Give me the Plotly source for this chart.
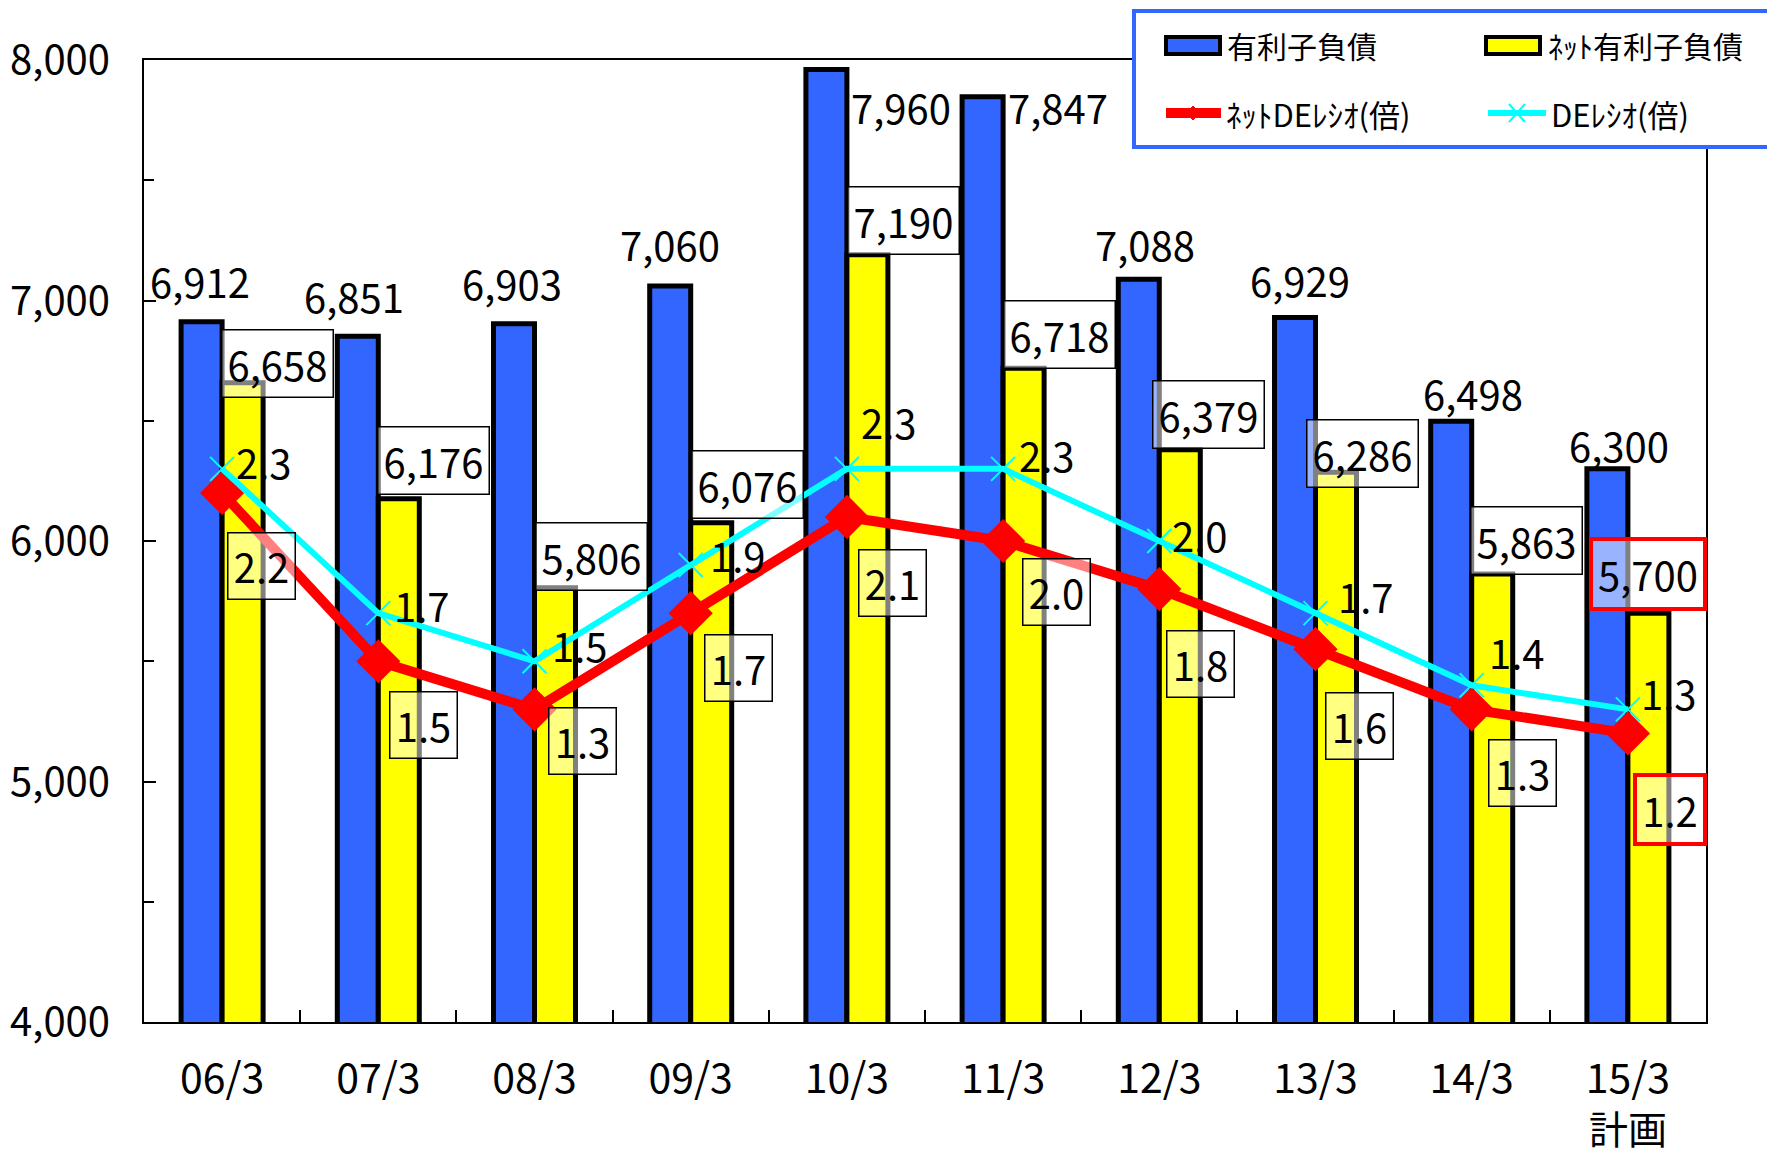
import plotly.graph_objects as go

# ---------------- data ----------------
categories = ["06/3", "07/3", "08/3", "09/3", "10/3", "11/3", "12/3", "13/3", "14/3", "15/3"]
plan_note = "計画"   # second line under the last category (plan year)
debt = [6912, 6851, 6903, 7060, 7960, 7847, 7088, 6929, 6498, 6300]          # 有利子負債
net_debt = [6658, 6176, 5806, 6076, 7190, 6718, 6379, 6286, 5863, 5700]      # ﾈｯﾄ有利子負債
net_de_ratio = [2.2, 1.5, 1.3, 1.7, 2.1, 2.0, 1.8, 1.55, 1.3, 1.2]           # ﾈｯﾄDEﾚｼｵ(倍)
de_ratio = [2.3, 1.7, 1.5, 1.9, 2.3, 2.3, 2.0, 1.7, 1.4, 1.3]                # DEﾚｼｵ(倍)
y_tick_values = [4000, 5000, 6000, 7000, 8000]

series_names = ["有利子負債", "ﾈｯﾄ有利子負債", "ﾈｯﾄDEﾚｼｵ(倍)", "DEﾚｼｵ(倍)"]

# ---------------- label placement (pixel offsets from the anchor point) ----------------
debt_lbl_dx = [-22, -24, -23, -21, 54, 55, -14, -16, 1, -9]      # from category centre
debt_lbl_dy = [41, 40, 41, 42, -37, -10, 35, 38, 28, 24]
net_lbl_dx = [35, 35, 36, 36, 36, 36, 29, 26, 34, 0]             # from yellow bar centre
net_lbl_dy = [19, 38, 31, 38, 34, 34, 35, 19, 33, 39]
nde_lbl_dx = [39, 45, 48, 48, 46, 53, 41, 44, 51, 42]
nde_lbl_dy = [-73, -64, -32, -55, -66, -51, -75, -77, -64, -76]
de_lbl_dx = [42, 44, 45, 47, 42, 44, 41, 50, 45, 41]
de_lbl_dy = [7, 8, 16, 10, 47, 14, 6, 17, 33, 16]
highlight = [False] * 9 + [True]

FONT = "Noto Sans CJK JP"
BLUE = "#3366FF"
YELLOW = "#FFFF00"
RED = "#FF0000"
CYAN = "#00FFFF"

# the page body has an 8px margin, so the figure is sized/offset to compensate
OFF = 8
W, H = 1767, 1150
ML, MR, MT, MB = 136, 69, 52, 136
PW, PH = W - ML - MR, H - MT - MB


def px(x):
    return (x - OFF - ML) / PW


def py(y):
    return (H - MB - (y - OFF)) / PH


fig = go.Figure()
fig.add_trace(go.Bar(x=categories, y=debt, name=series_names[0], showlegend=False,
                     marker=dict(color=BLUE, line=dict(color="black", width=5))))
fig.add_trace(go.Bar(x=categories, y=net_debt, name=series_names[1], showlegend=False,
                     marker=dict(color=YELLOW, line=dict(color="black", width=5))))
fig.add_trace(go.Scatter(x=categories, y=net_de_ratio, name=series_names[2], yaxis="y2",
                         mode="lines+markers", showlegend=False,
                         line=dict(color=RED, width=10),
                         marker=dict(symbol="diamond", size=34, color=RED)))
fig.add_trace(go.Scatter(x=categories, y=de_ratio, name=series_names[3], yaxis="y2",
                         mode="lines+markers", showlegend=False,
                         line=dict(color=CYAN, width=6),
                         marker=dict(symbol="x-thin", size=24, color=CYAN,
                                     line=dict(color=CYAN, width=2))))

annotations = []
lbl_font = dict(family=FONT, size=40, color="black")
for i, c in enumerate(categories):
    annotations.append(dict(x=c, y=debt[i], xref="x", yref="y", text=f"{debt[i]:,}",
                            showarrow=False, font=lbl_font,
                            xshift=debt_lbl_dx[i], yshift=debt_lbl_dy[i]))
    annotations.append(dict(x=c, y=net_debt[i], xref="x", yref="y", text=f"{net_debt[i]:,}",
                            showarrow=False, font=lbl_font,
                            xshift=20.5 + net_lbl_dx[i], yshift=net_lbl_dy[i],
                            bgcolor="rgba(255,255,255,0.5)",
                            bordercolor=RED if highlight[i] else "black",
                            borderwidth=4 if highlight[i] else 1.5,
                            width=110, height=66, borderpad=0))
    annotations.append(dict(x=c, y=net_de_ratio[i], xref="x", yref="y2",
                            text=f"{net_de_ratio[i]:.1f}",
                            showarrow=False, font=lbl_font,
                            xshift=nde_lbl_dx[i], yshift=nde_lbl_dy[i],
                            bgcolor="rgba(255,255,255,0.5)",
                            bordercolor=RED if highlight[i] else "black",
                            borderwidth=4 if highlight[i] else 1.5,
                            width=66, height=65, borderpad=0))
    annotations.append(dict(x=c, y=de_ratio[i], xref="x", yref="y2",
                            text=f"{de_ratio[i]:.1f}",
                            showarrow=False, font=lbl_font,
                            xshift=de_lbl_dx[i], yshift=de_lbl_dy[i]))

# second line of the last category label
annotations.append(dict(x=categories[-1], xref="x", yref="paper", y=py(1127),
                        yanchor="middle", text=plan_note, showarrow=False,
                        font=dict(family=FONT, size=39, color="black")))

# ---------------- legend (drawn by hand, in paper coordinates) ----------------
shapes = [dict(type="rect", xref="paper", yref="paper", x0=px(1134), x1=px(1800),
               y0=py(147), y1=py(11), line=dict(color=BLUE, width=4),
               fillcolor="white", layer="above")]
shapes.append(dict(type="rect", xref="paper", yref="paper", x0=px(1166), x1=px(1220),
                   y0=py(54), y1=py(37), line=dict(color="black", width=4),
                   fillcolor=BLUE, layer="above"))
shapes.append(dict(type="rect", xref="paper", yref="paper", x0=px(1486), x1=px(1540),
                   y0=py(54), y1=py(37), line=dict(color="black", width=4),
                   fillcolor=YELLOW, layer="above"))
shapes.append(dict(type="line", xref="paper", yref="paper", x0=px(1166), x1=px(1221),
                   y0=py(113), y1=py(113), line=dict(color=RED, width=10), layer="above"))
shapes.append(dict(type="path", xref="paper", yref="paper",
                   path=f"M {px(1186)},{py(113)} L {px(1193)},{py(106)} L {px(1200)},{py(113)} "
                        f"L {px(1193)},{py(120)} Z",
                   line=dict(color=RED, width=1), fillcolor=RED, layer="above"))
shapes.append(dict(type="line", xref="paper", yref="paper", x0=px(1488), x1=px(1546),
                   y0=py(113), y1=py(113), line=dict(color=CYAN, width=6), layer="above"))
shapes.append(dict(type="line", xref="paper", yref="paper", x0=px(1509), x1=px(1525),
                   y0=py(104), y1=py(122), line=dict(color=CYAN, width=2), layer="above"))
shapes.append(dict(type="line", xref="paper", yref="paper", x0=px(1509), x1=px(1525),
                   y0=py(122), y1=py(104), line=dict(color=CYAN, width=2), layer="above"))

legend_text_pos = [(1225, 45, 30), (1546, 45, 30), (1224, 114, 31), (1549, 114, 31)]
for name, (lx, ly, fs) in zip(series_names, legend_text_pos):
    annotations.append(dict(xref="paper", yref="paper", x=px(lx), y=py(ly), text=name,
                            xanchor="left", yanchor="middle", showarrow=False,
                            font=dict(family=FONT, size=fs, color="black")))

fig.update_layout(
    width=W, height=H,
    margin=dict(l=ML, r=MR, t=MT, b=MB, autoexpand=False),
    paper_bgcolor="white", plot_bgcolor="white",
    font=dict(family=FONT, size=40, color="black"),
    barmode="group", bargap=0.475, bargroupgap=0,
    xaxis=dict(type="category", range=[-0.5, len(categories) - 0.5],
               showline=True, linecolor="black", linewidth=2, mirror=True,
               ticks="inside", tickson="boundaries", ticklen=12, tickwidth=2, tickcolor="black",
               showgrid=False, tickfont=dict(family=FONT, size=41), ticklabelstandoff=20),
    yaxis=dict(range=[4000, 8000], tickvals=y_tick_values, tickformat=",d",
               showline=True, linecolor="black", linewidth=2, mirror=True,
               ticks="inside", ticklen=12, tickwidth=2, tickcolor="black",
               minor=dict(dtick=500, ticks="inside", ticklen=10, tickwidth=2, tickcolor="black"),
               showgrid=False, zeroline=False,
               tickfont=dict(family=FONT, size=40), ticklabelstandoff=24),
    yaxis2=dict(range=[0, 4], overlaying="y", side="right", visible=False, showgrid=False),
    shapes=shapes,
    annotations=annotations,
    showlegend=False,
)

fig.write_html("out.html")
